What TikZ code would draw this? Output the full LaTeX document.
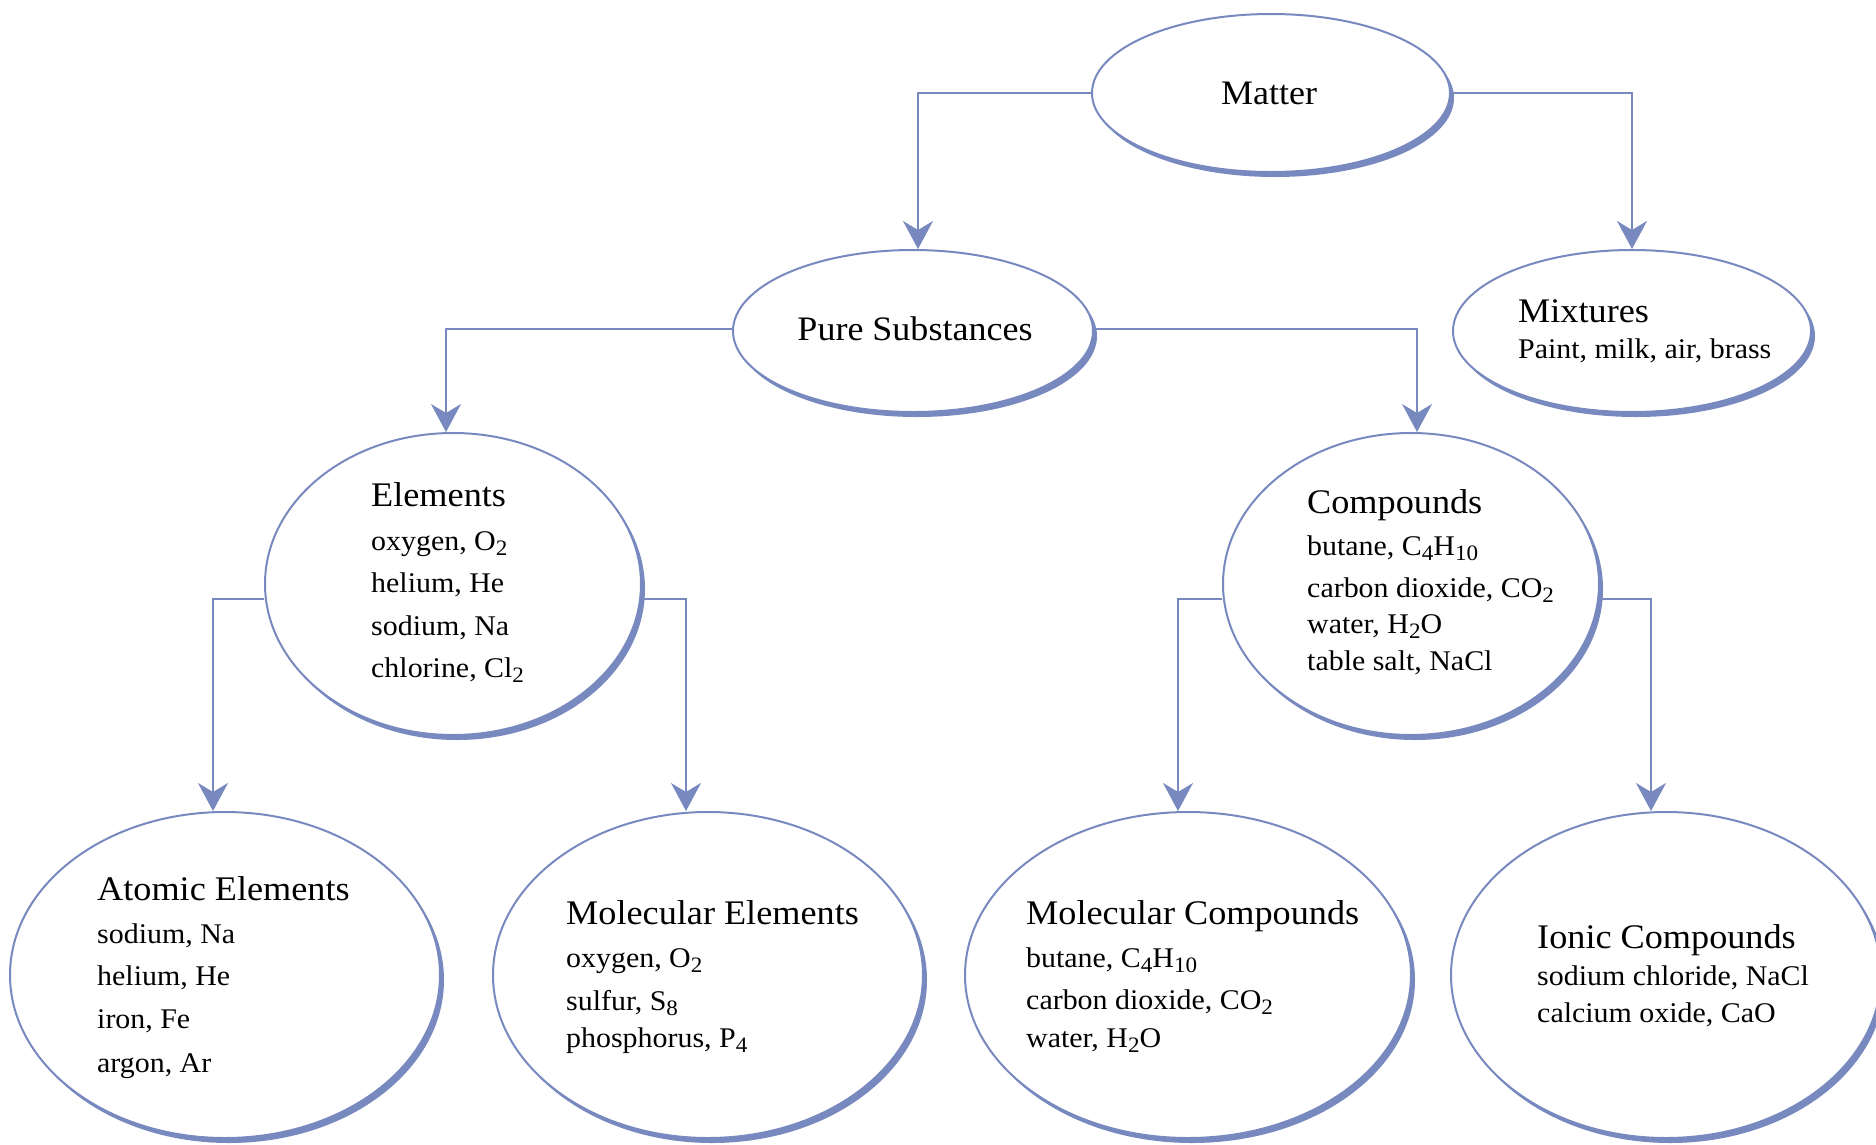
\documentclass[tikz,border=0pt]{standalone}
\usepackage{fontspec}
\setmainfont[FakeStretch=1.05]{Liberation Serif}
\usetikzlibrary{shapes.geometric,shadows,arrows.meta}
\definecolor{lineblue}{RGB}{120,137,192}
\newcommand\sbs[1]{\raisebox{-5pt}{\fontsize{22}{22}\selectfont #1}}
\tikzset{
  ell/.style={ellipse, draw=lineblue, line width=2pt, fill=white, inner sep=0pt,
    drop shadow={shadow xshift=4pt, shadow yshift=-5pt, fill=lineblue, opacity=1}},
  conn/.style={draw=lineblue, line width=2pt, -{Stealth[length=28pt, width=30pt, inset=9pt]}},
  ttl/.style={inner sep=0pt, anchor=base west, font=\fontsize{34.5}{40}\selectfont},
  ttlc/.style={inner sep=0pt, anchor=base, font=\fontsize{34.3}{40}\selectfont},
  bdy/.style={inner sep=0pt, anchor=base west, font=\fontsize{28.5}{30}\selectfont},
}
\begin{document}
\begin{tikzpicture}[x=1pt,y=-1pt]
\fill[white] (0,0) rectangle (1876,1144);
\useasboundingbox (0,0) rectangle (1876,1144);

% ellipses
\node[ell, minimum width=358pt, minimum height=158pt] (matter) at (1271,93) {};
\node[ell, minimum width=360pt, minimum height=162pt] (pure) at (913,331) {};
\node[ell, minimum width=358pt, minimum height=162pt] (mix) at (1632,331) {};
\node[ell, minimum width=376pt, minimum height=302pt] (elem) at (453,584) {};
\node[ell, minimum width=376pt, minimum height=302pt] (comp) at (1411,584) {};
\node[ell, minimum width=430pt, minimum height=326pt] (atomic) at (225,975) {};
\node[ell, minimum width=430pt, minimum height=326pt] (molel) at (708,975) {};
\node[ell, minimum width=446pt, minimum height=326pt] (molco) at (1188,975) {};
\node[ell, minimum width=430pt, minimum height=326pt] (ionic) at (1666,975) {};

% connectors
\draw[conn] (matter.west) -| ([xshift=5pt]pure.north);
\draw[conn] (matter.east) -| (mix.north);
\draw[conn] ([yshift=2pt]pure.west) -| ([xshift=-7pt]elem.north);
\draw[conn] ([yshift=2pt]pure.east) -| ([xshift=6pt]comp.north);
\draw[conn] ([yshift=-15pt]elem.west) -| ([xshift=-12pt]atomic.north);
\draw[conn] ([yshift=-15pt]elem.east) -| ([xshift=-22pt]molel.north);
\draw[conn] ([yshift=-15pt]comp.west) -| ([xshift=-10pt]molco.north);
\draw[conn] ([yshift=-15pt]comp.east) -| ([xshift=-15pt]ionic.north);

% texts
\node[ttlc] (tmatter) at (1269,104) {Matter};
\node[ttlc] (tpure) at (915,340) {Pure Substances};

\node[ttl] (tmix) at (1518,322) {Mixtures};
\node[bdy] (tmix1) at (1518,358) {Paint, milk, air, brass};

\node[ttl] (telem) at (371,506) {Elements};
\node[bdy] (telem1) at (371,550) {oxygen, O\sbs{2}};
\node[bdy] (telem2) at (371,592) {helium, He};
\node[bdy] (telem3) at (371,635) {sodium, Na};
\node[bdy] (telem4) at (371,677) {chlorine, Cl\sbs{2}};

\node[ttl] (tcomp) at (1307,513) {Compounds};
\node[bdy] (tcomp1) at (1307,555) {butane, C\sbs{4}H\sbs{10}};
\node[bdy] (tcomp2) at (1307,597) {carbon dioxide, CO\sbs{2}};
\node[bdy] (tcomp3) at (1307,633) {water, H\sbs{2}O};
\node[bdy] (tcomp4) at (1307,670) {table salt, NaCl};

\node[ttl] (tatomic) at (97,900) {Atomic Elements};
\node[bdy] (tatomic1) at (97,943) {sodium, Na};
\node[bdy] (tatomic2) at (97,985) {helium, He};
\node[bdy] (tatomic3) at (97,1028) {iron, Fe};
\node[bdy] (tatomic4) at (97,1072) {argon, Ar};

\node[ttl] (tmolel) at (566,924) {Molecular Elements};
\node[bdy] (tmolel1) at (566,967) {oxygen, O\sbs{2}};
\node[bdy] (tmolel2) at (566,1010) {sulfur, S\sbs{8}};
\node[bdy] (tmolel3) at (566,1047) {phosphorus, P\sbs{4}};

\node[ttl] (tmolco) at (1026,924) {Molecular Compounds};
\node[bdy] (tmolco1) at (1026,967) {butane, C\sbs{4}H\sbs{10}};
\node[bdy] (tmolco2) at (1026,1009) {carbon dioxide, CO\sbs{2}};
\node[bdy] (tmolco3) at (1026,1047) {water, H\sbs{2}O};

\node[ttl] (tionic) at (1537,948) {Ionic Compounds};
\node[bdy] (tionic1) at (1537,985) {sodium chloride, NaCl};
\node[bdy] (tionic2) at (1537,1022) {calcium oxide, CaO};
\end{tikzpicture}
\end{document}
